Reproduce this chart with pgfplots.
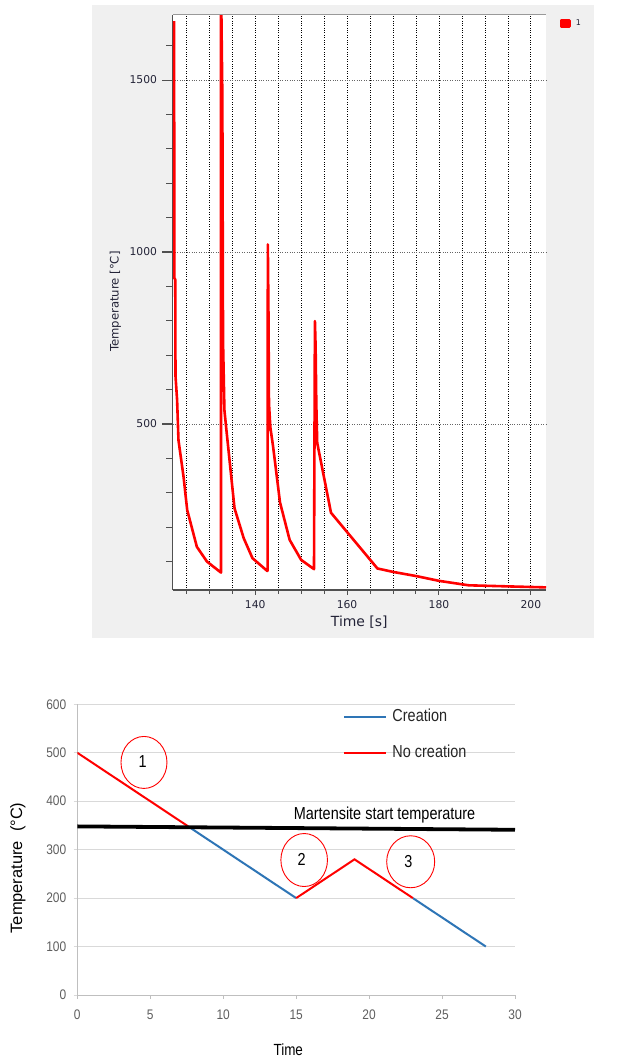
\documentclass[border=0pt]{standalone}
\usepackage{fontspec}
\usepackage{pgfplots}
\pgfplotsset{compat=1.18}
\setmainfont{Liberation Sans}
\newfontfamily\dejavu{DejaVu Sans}
\newfontfamily\libsans{Liberation Sans}
\definecolor{panelgray}{RGB}{240,240,240}
\definecolor{axdark}{RGB}{80,80,80}
\definecolor{ticktext}{RGB}{35,35,55}
\definecolor{excelblue}{RGB}{46,117,182}
\definecolor{axgray}{RGB}{191,191,191}
\definecolor{gridgray}{RGB}{217,217,217}
\definecolor{labgray}{RGB}{95,95,95}
\begin{document}
\begin{tikzpicture}
\fill[white] (0,0) rectangle (623bp,1061bp);
\path[use as bounding box] (0,0) rectangle (623bp,1061bp);
\fill[panelgray] (92bp,423bp) rectangle (594bp,1056bp);

% ---------------- top chart ----------------
\begin{axis}[
  at={(172.5bp,471bp)}, anchor=south west,
  scale only axis, width=373.5bp, height=575bp,
  xmin=122.0, xmax=203.3, ymin=17.4, ymax=1689,
  clip mode=individual,
  axis background/.style={fill=white},
  axis x line*=bottom, axis y line*=left,
  axis line style={-, draw=axdark, line width=1.4bp},
  tick align=outside,
  xtick={140,160,180,200}, minor xtick={125,130,...,200},
  ytick={500,1000,1500}, minor ytick={100,200,...,1600},
  major tick length=5bp, minor tick length=4bp,
  tick style={axdark, line width=1bp},
  xminorgrids=true, ymajorgrids=true,
  minor x grid style={black, dotted, line width=0.7bp},
  major y grid style={black!60, dotted, line width=0.7bp},
  /pgf/number format/assume math mode=true,
  /pgf/number format/1000 sep={},
  ticklabel style={font=\dejavu\fontsize{10.8}{12}\selectfont, text=ticktext},
  yticklabel style={xshift=-7bp},
  xticklabel style={yshift=-2bp},
  xlabel={Time [s]}, ylabel={Temperature [°C]},
  xlabel style={font=\dejavu\fontsize{14}{16}\selectfont, text=ticktext,
    at={(axis description cs:0.5,-0.0551)}, anchor=center},
  ylabel style={font=\dejavu\fontsize{11.7}{13}\selectfont, text=ticktext,
    at={(axis description cs:-0.1531,0.5014)}, anchor=center},
  legend style={at={(1.0356,0.985)}, anchor=west, draw=none, fill=none,
    inner sep=0pt, font=\dejavu\fontsize{8}{9}\selectfont,
    nodes={inner sep=0pt, text=ticktext}, column sep=5bp},
  legend image code/.code={\fill[red] (0bp,-3bp) rectangle (8.7bp,3bp);},
]
\addplot[red, line width=2.6bp, line join=round] coordinates {
 (122.35,1671) (122.4,924) (122.6,920) (122.65,640) (123.0,570) (123.3,453)
 (124.4,347) (125.2,250) (127.3,143) (129.5,100) (132.55,68)
 (132.55,1800) (132.85,1451) (133.0,740) (133.3,540) (133.8,474)
 (135.5,255) (137.5,168) (139.4,110) (142.6,73)
 (142.7,73) (142.75,1022) (142.9,805) (143.0,560) (143.3,490) (143.9,434)
 (145.4,272) (147.5,163) (150.0,105) (152.8,78)
 (153.0,799) (153.15,725) (153.3,560) (153.5,445) (156.5,242)
 (166.6,80) (170.0,70) (175,58) (180,44) (186.5,31) (192,29) (197.5,27) (203.3,25)
};
\addlegendentry{1}
\draw[black!40, line width=1bp] (rel axis cs:0,1) -- (rel axis cs:1,1);
\end{axis}
% y-axis tick marks of the top chart (decoration, in page units)
\foreach \v in {100,200,300,400,600,700,800,900,1100,1200,1300,1400,1600}{
  \draw[axdark, line width=1.1bp] (171.5bp,{471bp+(\v-17.4)*0.34394bp}) -- ++(-6bp,0bp);}
\foreach \v in {500,1000,1500}{
  \draw[axdark, line width=1.1bp] (171.5bp,{471bp+(\v-17.4)*0.34394bp}) -- ++(-9.5bp,0bp);}

% ---------------- bottom chart ----------------
\begin{axis}[
  at={(77.3bp,66bp)}, anchor=south west,
  scale only axis, width=437.7bp, height=290.7bp,
  xmin=0, xmax=30, ymin=0, ymax=600,
  clip mode=individual,
  xtick={0,5,...,30}, ytick={0,100,...,600},
  axis x line*=bottom, axis y line*=left,
  axis line style={-, draw=axgray, line width=0.9bp},
  tick align=outside, major tick length=3.5bp,
  tick style={axgray, line width=0.9bp},
  ymajorgrids=true, major y grid style={gridgray, line width=0.9bp},
  /pgf/number format/assume math mode=true,
  ticklabel style={font=\libsans\fontsize{12}{14}\selectfont, text=labgray, yscale=1.16},
  xticklabel style={yshift=-6bp},
  yticklabel style={xshift=-4bp},
  xlabel={Time}, ylabel={Temperature\ \ (°C)},
  xlabel style={font=\libsans\fontsize{13.5}{16}\selectfont, yscale=1.2,
    at={(axis description cs:0.482,-0.189)}, anchor=center},
  ylabel style={font=\libsans\fontsize{16.5}{18}\selectfont,
    at={(axis description cs:-0.1355,0.437)}, anchor=center},
  legend cell align=left,
  legend style={at={(0.6077,0.986)}, anchor=north west, draw=none, fill=none,
    inner sep=0pt, font=\libsans\fontsize{14.5}{16}\selectfont,
    nodes={inner sep=0pt, text height=10.5bp, text depth=3bp, yscale=1.2, text=black!85},
    column sep=5bp, row sep=20bp},
  legend image code/.code={\draw[#1] (0bp,0bp) -- (42bp,0bp);},
]
\addplot[excelblue, line width=2bp] coordinates {(7.6,348) (15,200)};
\addlegendentry{Creation}
\addplot[red, line width=2bp] coordinates {(0,500) (7.6,348)};
\addlegendentry{No creation}
\addplot[excelblue, line width=2bp, forget plot] coordinates {(23,200) (28,100)};
\addplot[red, line width=2bp, forget plot] coordinates {(15,200) (19,280) (23,200)};
\addplot[black, line width=3.8bp, forget plot] coordinates {(0,348) (30,341)};
\draw[red, line width=0.9bp] (axis cs:4.57,480) ellipse [x radius=23bp, y radius=26bp];
\draw[red, line width=0.9bp] (axis cs:15.55,278.6) ellipse [x radius=23.3bp, y radius=26.5bp];
\draw[red, line width=0.9bp] (axis cs:22.85,275) ellipse [x radius=24bp, y radius=26bp];
\node[font=\libsans\fontsize{14.5}{16}\selectfont, yscale=1.2] at (axis cs:4.48,481.5) {1};
\node[font=\libsans\fontsize{14.5}{16}\selectfont, yscale=1.2] at (axis cs:15.38,280) {2};
\node[font=\libsans\fontsize{14.5}{16}\selectfont, yscale=1.2] at (axis cs:22.69,275) {3};
\node[font=\libsans\fontsize{14.5}{16}\selectfont, yscale=1.2] at (axis cs:21.06,371.5) {Martensite start temperature};
\end{axis}
\foreach \v in {0,100,...,600}{
  \draw[gridgray, line width=0.9bp] (77.3bp,{66bp+\v*0.4845bp}) -- ++(-3.5bp,0bp);}
\end{tikzpicture}
\end{document}
